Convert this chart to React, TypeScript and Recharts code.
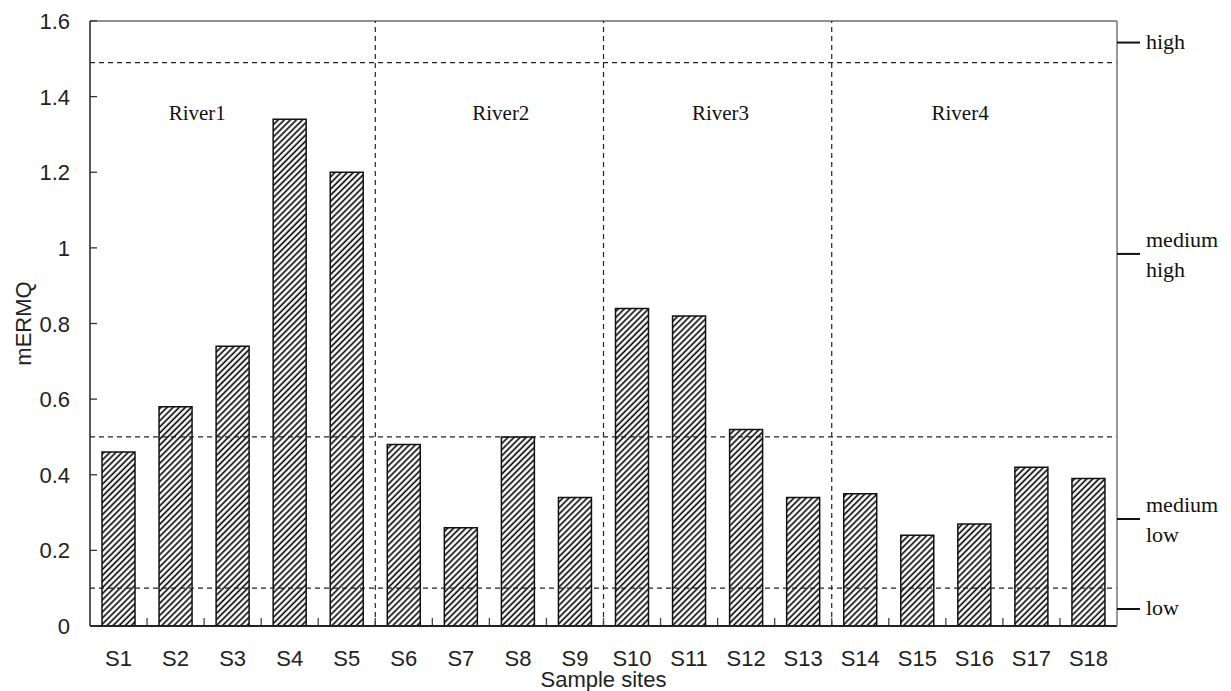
import {
  Bar,
  BarChart,
  Label,
  ReferenceDot,
  ReferenceLine,
  XAxis,
  YAxis,
} from 'recharts'

const SITES = ['S1', 'S2', 'S3', 'S4', 'S5', 'S6', 'S7', 'S8', 'S9', 'S10', 'S11', 'S12', 'S13', 'S14', 'S15', 'S16', 'S17', 'S18']
const MERMQ = [0.46, 0.58, 0.74, 1.34, 1.2, 0.48, 0.26, 0.5, 0.34, 0.84, 0.82, 0.52, 0.34, 0.35, 0.24, 0.27, 0.42, 0.39]

const Y_TICKS = [0, 0.2, 0.4, 0.6, 0.8, 1, 1.2, 1.4, 1.6]
const RIVER_SPLITS = [5, 9, 13]
const THRESHOLDS = [0.1, 0.5, 1.49]

const RIVERS = [
  { name: 'River1', pos: 1.88 },
  { name: 'River2', pos: 7.2 },
  { name: 'River3', pos: 11.05 },
  { name: 'River4', pos: 15.25 },
]
const RIVER_Y = 1.358

const LEVEL_TICKS = [0.045, 0.283, 0.984, 1.543]
const LEVEL_LABELS: Record<string, string[]> = {
  '0.045': ['low'],
  '0.283': ['medium', 'low'],
  '0.984': ['medium', 'high'],
  '1.543': ['high'],
}

// idx = band centre on the 0..18 helper axis
const data = SITES.map((site, i) => ({ site, value: MERMQ[i], idx: i + 0.5 }))

const SANS = '"Liberation Sans", Arial, sans-serif'
const SERIF = '"Liberation Serif", "Times New Roman", serif'
const X_MARGIN = 24

function LeftTick(props: any) {
  const x = Number(props.x)
  const y = Number(props.y)
  return (
    <g>
      <line x1={x + 20} y1={y} x2={x + 27} y2={y} stroke="#333" strokeWidth={1.3} />
      <text x={x} y={y} dy={8} textAnchor="end" fontFamily={SANS} fontSize={22} fill="#222">
        {String(props.payload.value)}
      </text>
    </g>
  )
}

// site label plus the inward tick mark on the band's right edge
function SiteTick(props: any) {
  const x = Number(props.x)
  const y = Number(props.y)
  const base = y - X_MARGIN
  const half = Number(props.width) / Number(props.visibleTicksCount) / 2
  const last = props.index === props.visibleTicksCount - 1
  return (
    <g>
      {!last && <line x1={x + half} y1={base - 1} x2={x + half} y2={base - 8} stroke="#444" strokeWidth={1.3} />}
      <text x={x} y={y} dy="0.71em" textAnchor="middle" fontFamily={SANS} fontSize={22} fill="#222">
        {props.payload.value}
      </text>
    </g>
  )
}

function RightTick(props: any) {
  const x = Number(props.x)
  const y = Number(props.y)
  const lines = LEVEL_LABELS[String(props.payload.value)] || []
  if (lines.length === 1) {
    return (
      <text x={x} y={y} dy={6} fontFamily={SERIF} fontSize={22} fill="#111">
        {lines[0]}
      </text>
    )
  }
  return (
    <g>
      <text x={x} y={y - 13} dy={6} fontFamily={SERIF} fontSize={22} fill="#111">
        {lines[0]}
      </text>
      <text x={x} y={y + 17} dy={6} fontFamily={SERIF} fontSize={22} fill="#111">
        {lines[1]}
      </text>
    </g>
  )
}

function YTitle({ viewBox }: any) {
  const cx = viewBox.x + 23
  const cy = viewBox.y + viewBox.height / 2
  return (
    <text x={cx} y={cy} transform={`rotate(-90 ${cx} ${cy})`} dy={8} textAnchor="middle" fontFamily={SANS} fontSize={22} fill="#222">
      mERMQ
    </text>
  )
}

export default function App() {
  return (
    <div style={{ position: 'absolute', left: 0, top: 0, background: '#fff' }}>
      <BarChart width={1231} height={691} data={data} margin={{ top: 21, right: 0, left: 0, bottom: 0 }}>
        <defs>
          <pattern id="hatch" patternUnits="userSpaceOnUse" width="4.3" height="4.3" patternTransform="rotate(45)">
            <rect width="4.3" height="4.3" fill="#fff" />
            <line x1="2" y1="0" x2="2" y2="4.3" stroke="#000" strokeWidth={1.6} />
          </pattern>
        </defs>
        <XAxis xAxisId="num" type="number" dataKey="idx" domain={[0, 18]} allowDataOverflow hide />
        <XAxis
          xAxisId="cat"
          dataKey="site"
          interval={0}
          height={65}
          tickLine={false}
          tickSize={0}
          tickMargin={X_MARGIN}
          axisLine={{ stroke: '#222', strokeWidth: 2 }}
          tick={(p: any) => <SiteTick {...p} />}
        >
          <Label value="Sample sites" position="insideBottom" offset={4} style={{ fontFamily: SANS, fontSize: 22, fill: '#222' }} />
        </XAxis>
        <YAxis
          yAxisId="left"
          width={90}
          domain={[0, 1.6]}
          allowDataOverflow
          ticks={Y_TICKS}
          interval={0}
          tickLine={false}
          tickSize={0}
          tickMargin={20}
          axisLine={{ stroke: '#222', strokeWidth: 1.5 }}
          tick={(p: any) => <LeftTick {...p} />}
          label={<YTitle />}
        />
        <YAxis
          yAxisId="right"
          orientation="right"
          width={114}
          domain={[0, 1.6]}
          allowDataOverflow
          ticks={LEVEL_TICKS}
          interval={0}
          tickSize={23}
          tickMargin={6}
          tickLine={{ stroke: '#111', strokeWidth: 2 }}
          axisLine={{ stroke: '#777', strokeWidth: 1.5 }}
          tick={(p: any) => <RightTick {...p} />}
        />
        <ReferenceLine xAxisId="num" yAxisId="left" y={1.6} stroke="#222" strokeWidth={1.2} />
        {THRESHOLDS.map((t) => (
          <ReferenceLine key={t} xAxisId="num" yAxisId="left" y={t} stroke="#222" strokeWidth={1.2} strokeDasharray="5 4" />
        ))}
        {RIVER_SPLITS.map((s) => (
          <ReferenceLine key={s} xAxisId="num" yAxisId="left" x={s} stroke="#222" strokeWidth={1.2} strokeDasharray="5 4" />
        ))}
        <Bar
          xAxisId="cat"
          yAxisId="left"
          dataKey="value"
          barSize={33}
          fill="url(#hatch)"
          stroke="#111"
          strokeWidth={1.5}
          isAnimationActive={false}
        />
        {RIVERS.map((r) => (
          <ReferenceDot
            key={r.name}
            xAxisId="num"
            yAxisId="left"
            x={r.pos}
            y={RIVER_Y}
            r={0}
            fill="none"
            stroke="none"
            label={{ value: r.name, position: 'center', fontFamily: SERIF, fontSize: 21, fill: '#111' }}
          />
        ))}
      </BarChart>
    </div>
  )
}
